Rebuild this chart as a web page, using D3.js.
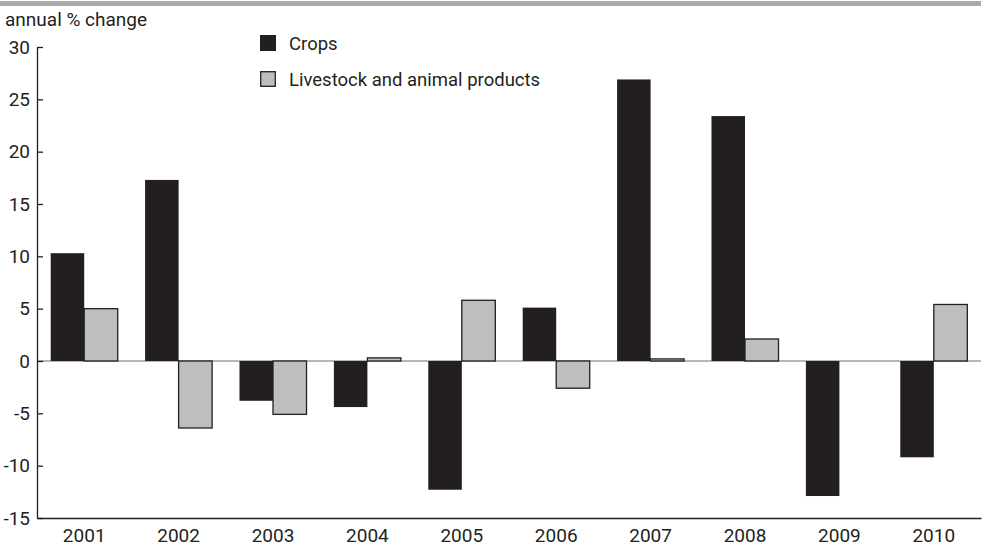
<!DOCTYPE html>
<html>
<head>
<meta charset="utf-8">
<script src="https://cdn.jsdelivr.net/npm/d3@7"></script>
<style>
  body { margin: 0; background: #fff; }
  svg text { font-family: "Roboto", sans-serif; fill: #231f20; }
</style>
</head>
<body>
<div id="chart"></div>
<script>
const years = ['2001', '2002', '2003', '2004', '2005', '2006', '2007', '2008', '2009', '2010'];
const crops = [10.3, 17.3, -3.8, -4.4, -12.3, 5.1, 26.9, 23.4, -12.9, -9.2];
const livestock = [5.0, -6.4, -5.1, 0.3, 5.8, -2.6, 0.2, 2.1, 0, 5.4];
const yTicks = [-15, -10, -5, 0, 5, 10, 15, 20, 25, 30];
const seriesNames = ['Crops', 'Livestock and animal products'];

const w = 986, h = 548;
const margin = { left: 37, right: 5, top: 47, bottom: 30 };
const fs = 19;

const dark = '#231f20', grey = '#bcbec0';

const svg = d3.select('#chart')
    .append('svg')
    .attr('width', w)
    .attr('height', h);

// grey band on top
svg.append('rect')
    .attr('x', 0).attr('y', 1)
    .attr('width', 981).attr('height', 5)
    .attr('fill', '#a7a9ac');

const scaleX = d3.scaleBand()
    .domain(years)
    .range([margin.left, w - margin.right])
    .paddingInner(0.29)
    .paddingOuter(0.145);

const scaleY = d3.scaleLinear()
    .domain([-15, 30])
    .range([h - margin.bottom, margin.top]);

const bw = scaleX.bandwidth() / 2;

// zero line
svg.append('line')
    .attr('x1', margin.left).attr('x2', w - margin.right)
    .attr('y1', scaleY(0)).attr('y2', scaleY(0))
    .attr('stroke', '#6d6e71').attr('stroke-width', 1);

const data = years.map((y, i) => ({ year: y, crops: crops[i], livestock: livestock[i] }));

svg.selectAll('rect.crops')
    .data(data)
    .enter()
    .append('rect')
        .attr('class', 'crops')
        .attr('x', (d) => scaleX(d.year))
        .attr('width', bw)
        .attr('y', (d) => scaleY(Math.max(0, d.crops)))
        .attr('height', (d) => Math.abs(scaleY(d.crops) - scaleY(0)))
        .attr('fill', dark);

svg.selectAll('rect.livestock')
    .data(data.filter((d) => d.livestock !== 0))
    .enter()
    .append('rect')
        .attr('class', 'livestock')
        .attr('x', (d) => scaleX(d.year) + bw)
        .attr('width', bw)
        .attr('y', (d) => scaleY(Math.max(0, d.livestock)))
        .attr('height', (d) => Math.abs(scaleY(d.livestock) - scaleY(0)))
        .attr('fill', grey)
        .attr('stroke', dark)
        .attr('stroke-width', 1.3);

// y axis, ticks pointing inward
const yAxis = d3.axisRight(scaleY)
    .tickValues(yTicks)
    .tickSize(6)
    .tickSizeOuter(0)
    .tickFormat((d) => d);

const gy = svg.append('g')
    .attr('transform', `translate(${margin.left}, 0)`)
    .call(yAxis);
gy.select('.domain').attr('stroke', dark).attr('stroke-width', 1.3);
gy.selectAll('.tick line').attr('stroke', dark).attr('stroke-width', 1.3);
gy.selectAll('.tick text')
    .attr('x', -7)
    .attr('text-anchor', 'end');

// x axis along bottom
const xAxis = d3.axisBottom(scaleX).tickSize(0).tickSizeOuter(0);
const gx = svg.append('g')
    .attr('transform', `translate(0, ${scaleY(-15)})`)
    .call(xAxis);
gx.select('.domain').attr('stroke', dark).attr('stroke-width', 1.3);
gx.selectAll('.tick text').attr('y', 11);

svg.selectAll('g').attr('font-family', null).attr('font-size', fs);
svg.selectAll('.tick text').attr('fill', dark);

// unit label
svg.append('text')
    .attr('x', 5).attr('y', 26)
    .attr('font-size', fs)
    .text('annual % change');

// legend
const legend = svg.append('g').attr('transform', 'translate(260, 35)');
seriesNames.forEach((name, i) => {
    legend.append('rect')
        .attr('x', i ? 0.7 : 0).attr('y', i * 36 + (i ? 0.7 : 0))
        .attr('width', i ? 14.6 : 16).attr('height', i ? 14.6 : 16)
        .attr('fill', i ? grey : dark)
        .attr('stroke', i ? dark : 'none')
        .attr('stroke-width', 1.3);
    legend.append('text')
        .attr('x', 29).attr('y', i * 36 + 15)
        .attr('font-size', 18.5)
        .text(name);
});
</script>
</body>
</html>
